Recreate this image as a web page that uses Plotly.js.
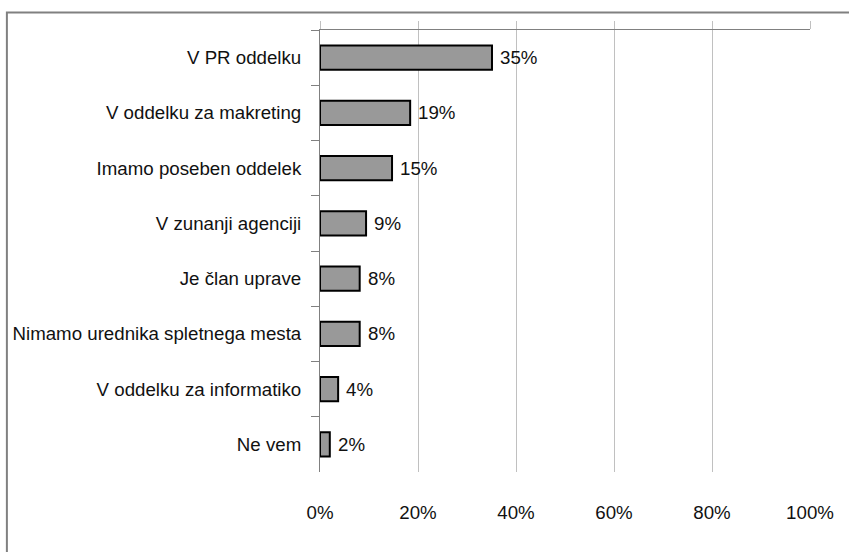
<!DOCTYPE html>
<html>
<head>
<meta charset="utf-8">
<script src="https://cdn.plot.ly/plotly-3.0.1.min.js"></script>
<style>
html,body{margin:0;padding:0;background:#fff;}
#chart{width:849px;height:552px;}
</style>
</head>
<body>
<div id="chart"></div>
<script>
const categories = [
  "V PR oddelku",
  "V oddelku za makreting",
  "Imamo poseben oddelek",
  "V zunanji agenciji",
  "Je član uprave",
  "Nimamo urednika spletnega mesta",
  "V oddelku za informatiko",
  "Ne vem"
];
const values = [35.1, 18.4, 14.7, 9.4, 8.1, 8.1, 3.7, 2.0];
const valueLabels = ["35%", "19%", "15%", "9%", "8%", "8%", "4%", "2%"];
const tickVals = [0, 20, 40, 60, 80, 100];
const tickText = ["0%", "20%", "40%", "60%", "80%", "100%"];

const FONT = '"Liberation Sans", Arial, sans-serif';
const FS = 18.7;

const data = [
  {
    type: 'bar',
    orientation: 'h',
    y: categories,
    x: values,
    marker: {color: '#999999', line: {color: '#000', width: 2}},
    hoverinfo: 'skip',
    xaxis: 'x',
    yaxis: 'y'
  },
  {
    type: 'scatter',
    mode: 'none',
    x: [0, 100],
    y: [categories[0], categories[0]],
    xaxis: 'x2',
    yaxis: 'y',
    showlegend: false,
    hoverinfo: 'skip'
  }
];

const annotations = categories.map((c, i) => ({
  x: values[i],
  y: c,
  xref: 'x',
  yref: 'y',
  text: valueLabels[i],
  showarrow: false,
  xanchor: 'left',
  yanchor: 'middle',
  xshift: 6,
  font: {family: FONT, size: FS, color: '#111'}
}));

const layout = {
  width: 849,
  height: 552,
  margin: {l: 320, r: 39, t: 30, b: 80},
  paper_bgcolor: '#fff',
  plot_bgcolor: '#fff',
  showlegend: false,
  bargap: 0.56,
  font: {family: FONT, size: FS, color: '#111'},
  xaxis: {
    range: [0, 100],
    tickvals: tickVals,
    ticktext: tickText,
    showgrid: true,
    gridcolor: '#c0c0c0',
    gridwidth: 1,
    zeroline: false,
    showline: false,
    ticks: '',
    ticklabelstandoff: 27,
    tickfont: {family: FONT, size: FS, color: '#111'},
    fixedrange: true
  },
  xaxis2: {
    overlaying: 'x',
    side: 'top',
    anchor: 'y',
    range: [0, 100],
    tickvals: tickVals,
    showticklabels: false,
    showgrid: false,
    zeroline: false,
    showline: true,
    linecolor: '#808080',
    linewidth: 1,
    ticks: 'outside',
    ticklen: 8,
    tickcolor: '#c0c0c0',
    tickwidth: 1,
    fixedrange: true
  },
  yaxis: {
    type: 'category',
    autorange: 'reversed',
    showline: true,
    linecolor: '#808080',
    linewidth: 1,
    ticks: 'outside',
    tickson: 'boundaries',
    ticklen: 8,
    tickcolor: '#808080',
    tickwidth: 1,
    showgrid: false,
    zeroline: false,
    ticklabelstandoff: 14,
    tickfont: {family: FONT, size: FS, color: '#111'},
    fixedrange: true
  },
  annotations: annotations,
  shapes: [
    {
      type: 'rect', xref: 'paper', yref: 'paper',
      x0: -0.639, x1: 1.3, y0: -0.4, y1: 1.0396,
      line: {color: '#808080', width: 2},
      fillcolor: 'rgba(0,0,0,0)',
      layer: 'below'
    }
  ]
};

Plotly.newPlot('chart', data, layout, {displayModeBar: false, staticPlot: true});
</script>
</body>
</html>
